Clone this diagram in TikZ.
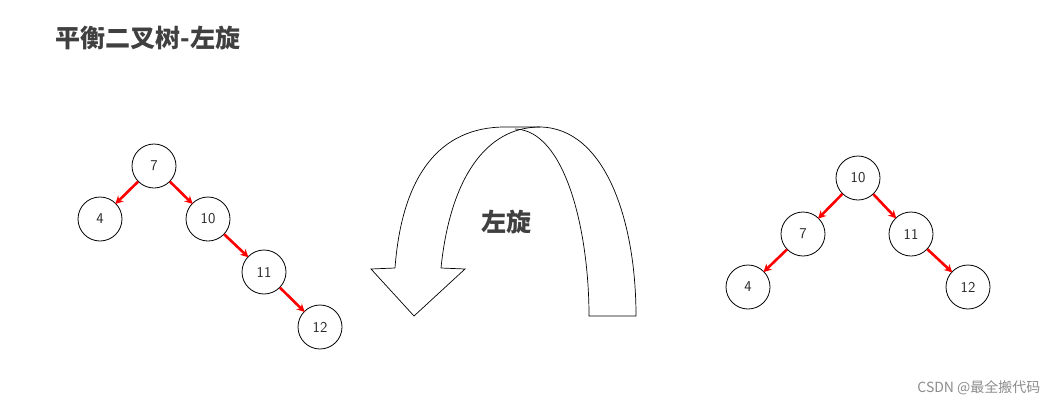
\documentclass[tikz,border=0pt]{standalone}
\usepackage{fontspec}
\newfontfamily\cjk{Noto Sans CJK SC}
\usetikzlibrary{arrows.meta}
\begin{document}
\begin{tikzpicture}[x=1pt,y=-1pt,
  tn/.style={circle,draw=black,line width=0.8pt,minimum size=44pt,inner sep=0pt,font=\sffamily\fontsize{15}{15}\selectfont,text=black!85},
  re/.style={draw=red,line width=2.6pt,-{Stealth[length=8pt,width=8pt]},shorten >=-1pt},
  rib/.style={draw=black,line width=0.7pt}]
\useasboundingbox (0,0) rectangle (1054,407);
\node[anchor=west,font=\cjk\bfseries\fontsize{25}{25}\selectfont,text=black!75] (title) at (52,38) {平衡二叉树-左旋};
% left tree
\node[tn] (a7) at (154,166) {7};
\node[tn] (a4) at (100,219) {4};
\node[tn] (a10) at (208,219) {10};
\node[tn] (a11) at (264,272) {11};
\node[tn] (a12) at (320,327) {12};
\draw[re] (a7) -- (a4);
\draw[re] (a7) -- (a10);
\draw[re] (a10) -- (a11);
\draw[re] (a11) -- (a12);
% right tree
\node[tn] (b10) at (858,178) {10};
\node[tn] (b7) at (803,234) {7};
\node[tn] (b11) at (911,234) {11};
\node[tn] (b4) at (748,287) {4};
\node[tn] (b12) at (968,287) {12};
\draw[re] (b10) -- (b7);
\draw[re] (b10) -- (b11);
\draw[re] (b7) -- (b4);
\draw[re] (b11) -- (b12);
% ribbon arrow
\draw[rib] (395,268) .. controls (402,175) and (440,127) .. (505,127) -- (540,127) .. controls (605,128) and (636,220) .. (636,316) -- (589,316) .. controls (589,230) and (565,130) .. (515,129);
\draw[rib] (441,268) .. controls (450,180) and (485,127) .. (540,127);
\draw[rib] (395,268) -- (371,269) -- (414,316) -- (465,269) -- (441,268);
\node[font=\cjk\bfseries\fontsize{25}{25}\selectfont,text=black!75] (lbl) at (506,222) {左旋};
\node[anchor=east,font=\cjk\fontsize{14}{14}\selectfont,text=black!45] (wm) at (1044,388) {CSDN @最全搬代码};
\end{tikzpicture}
\end{document}
